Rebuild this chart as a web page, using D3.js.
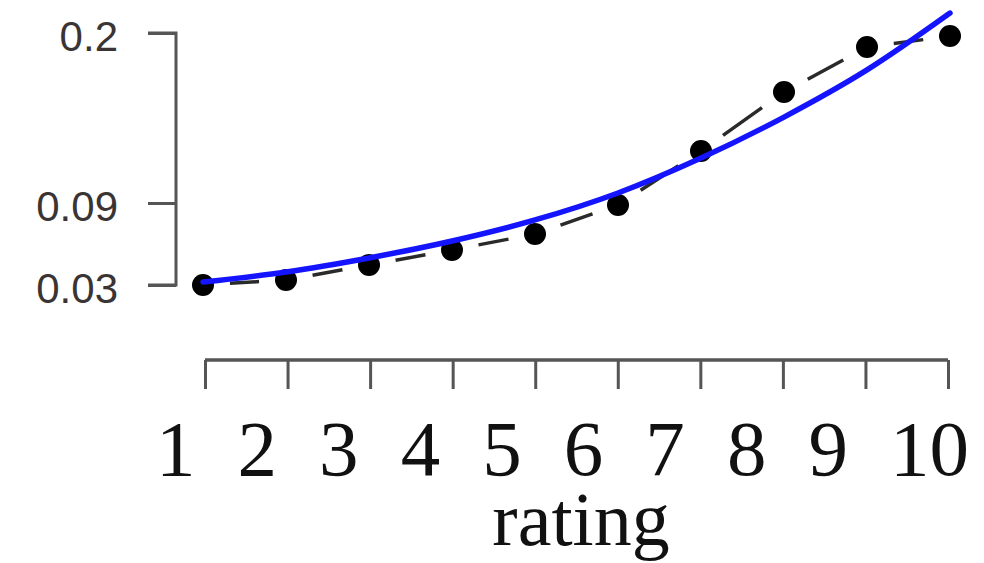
<!DOCTYPE html>
<html>
<head>
<meta charset="utf-8">
<script src="https://cdn.jsdelivr.net/npm/d3@7"></script>
<style>
  html, body { margin: 0; padding: 0; background: #fff; }
  svg { display: block; }
</style>
</head>
<body>
<svg id="chart" width="984" height="563"></svg>
<script>
// ---- data ----
const ratings = [1, 2, 3, 4, 5, 6, 7, 8, 9, 10];
const observed = [0.0300, 0.0337, 0.0446, 0.0556, 0.0673, 0.0885, 0.1236, 0.1618, 0.1909, 0.1980];
const fitted   = [0.0322, 0.0395, 0.0498, 0.0622, 0.0776, 0.0965, 0.1191, 0.1456, 0.1761, 0.2129];
const yTickValues = [0.03, 0.09, 0.2];
const yTickLabels = ["0.03", "0.09", "0.2"];
const xTickLabels = ["1", "2", "3", "4", "5", "6", "7", "8", "9", "10"];
const xTitle = "rating";

// ---- layout ----
const svg = d3.select("#chart");
const x = d3.scaleLinear().domain([1, 10]).range([203, 950]);
const xAxisScale = d3.scaleLinear().domain([1, 10]).range([205, 948]);
const xLabelScale = d3.scaleLinear().domain([1, 10]).range([156, 890]);
const y = d3.scaleLinear().domain([0.03, 0.09, 0.2]).range([285, 203, 33]);

const axisColor = "#555";

// y axis
const yAxisX = 176;
const yAxis = d3.axisLeft(y).tickValues(yTickValues).tickSize(28).tickFormat((d, i) => yTickLabels[i]);
const gy = svg.append("g").attr("transform", `translate(${yAxisX},0)`).call(yAxis);
gy.select(".domain").attr("d", `M-28,${y(0.2)}H0V${y(0.03)}H-28`)
  .attr("stroke", axisColor).attr("stroke-width", 3).attr("fill", "none");
gy.selectAll(".tick line").attr("stroke", axisColor).attr("stroke-width", 3);
gy.selectAll(".tick text")
  .attr("x", -58).attr("dy", "0.42em")
  .attr("fill", "#3a3434")
  .style("font-family", "'Liberation Sans', Arial, sans-serif")
  .style("font-size", "42px");

// x axis
const xAxisY = 360;
const xAxis = d3.axisBottom(xAxisScale).tickValues(ratings).tickSize(29).tickFormat("");
const gx = svg.append("g").attr("transform", `translate(0,${xAxisY})`).call(xAxis);
gx.select(".domain").attr("d", `M${xAxisScale(1)},0H${xAxisScale(10)}`)
  .attr("stroke", axisColor).attr("stroke-width", 3.5).attr("fill", "none");
gx.selectAll(".tick line").attr("stroke", axisColor).attr("stroke-width", 3);

svg.append("g").selectAll("text").data(ratings).join("text")
  .attr("x", d => xLabelScale(d))
  .attr("y", 475)
  .attr("text-anchor", "start")
  .attr("fill", "#111")
  .style("font-family", "'Liberation Serif', 'Times New Roman', serif")
  .style("font-size", "79px")
  .text((d, i) => xTickLabels[i]);

svg.append("text")
  .attr("x", 581).attr("y", 545)
  .attr("text-anchor", "middle")
  .attr("fill", "#111")
  .style("font-family", "'Liberation Serif', 'Times New Roman', serif")
  .style("font-size", "76px")
  .text(xTitle);

// dashed segments between observed points (each segment with one dash in the middle)
const pts = ratings.map((r, i) => [x(r), y(observed[i])]);
const segs = d3.pairs(pts);
const gap = 27;
svg.append("g").selectAll("line").data(segs).join("line")
  .attr("x1", d => d[0][0]).attr("y1", d => d[0][1])
  .attr("x2", d => d[1][0]).attr("y2", d => d[1][1])
  .attr("stroke", "#2a2a2a").attr("stroke-width", 3.5)
  .attr("stroke-dasharray", d => {
    const L = Math.hypot(d[1][0] - d[0][0], d[1][1] - d[0][1]);
    return `0 ${gap} ${Math.max(0, L - 2 * gap)} ${L}`;
  });

// observed dots
svg.append("g").selectAll("circle").data(ratings).join("circle")
  .attr("cx", d => x(d))
  .attr("cy", (d, i) => y(observed[i]))
  .attr("r", 11)
  .attr("fill", "#000");

// fitted curve
const line = d3.line().x((d, i) => x(ratings[i])).y(d => y(d)).curve(d3.curveMonotoneX);
svg.append("path").datum(fitted)
  .attr("d", line)
  .attr("fill", "none")
  .attr("stroke", "#1414ff")
  .attr("stroke-width", 5.5)
  .attr("stroke-linecap", "round");
</script>
</body>
</html>
